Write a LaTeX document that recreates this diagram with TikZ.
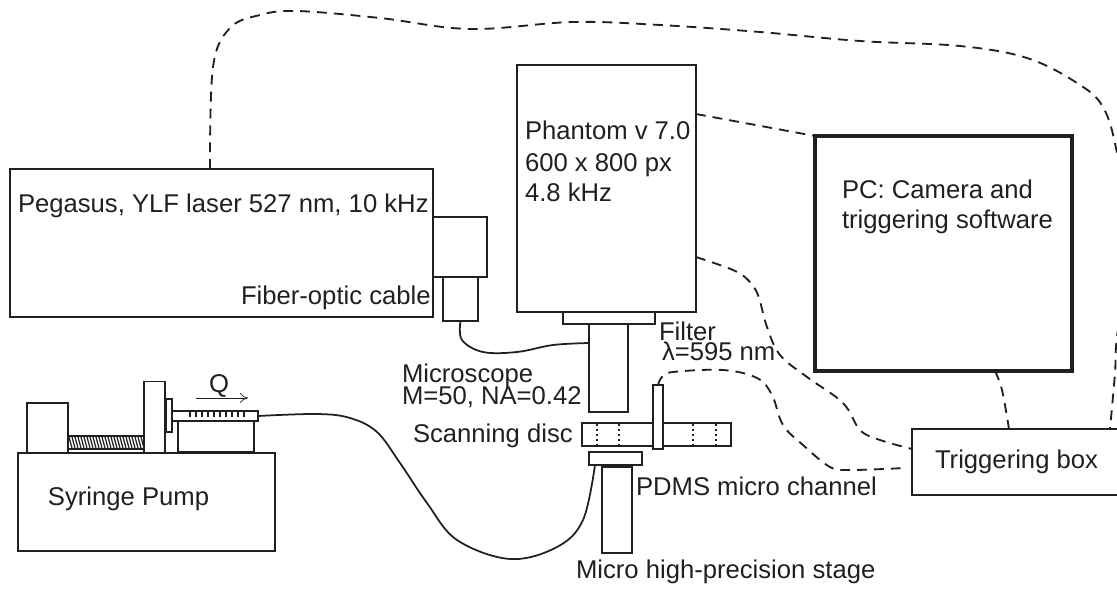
\documentclass[tikz,border=0pt]{standalone}
\usepackage{fontspec}
\setmainfont{Liberation Sans}
\usetikzlibrary{positioning,arrows.meta,calc}
\definecolor{inkGrey}{RGB}{35,31,32}

\begin{document}
\begin{tikzpicture}[x=0.02cm,y=-0.02cm,
  unitbox/.style={draw=inkGrey, line width=1.1pt, fill=white, inner sep=0pt, outer sep=0pt},
  pcbox/.style={draw=inkGrey, line width=2.2pt, fill=white, inner sep=0pt, outer sep=0pt},
  lbl/.style={anchor=base west, inner sep=0pt, outer sep=0pt, text=inkGrey,
              font=\fontsize{14.6}{17}\selectfont},
  tubing/.style={draw=inkGrey, line width=1pt},
  signal/.style={draw=inkGrey, line width=1.05pt, dash pattern=on 5.6pt off 4pt},
  slot/.style={draw=inkGrey, line width=1.3pt, dash pattern=on 1.4pt off 1.4pt},
  flowarr/.style={-{To[length=1.6mm,width=2mm]}, draw=inkGrey, line width=0.4pt}
]
\useasboundingbox (0,0) rectangle (1117,589);
\clip (0,0) rectangle (1117,589);
%% Laser and fibre coupler
\node[unitbox, minimum width=8.46cm, minimum height=2.96cm] (LAS) at (221.5,243) {};
\node[unitbox, minimum width=1.08cm, minimum height=1.2cm]  (COUP) at (460,247) {};
\node[unitbox, minimum width=0.7cm,  minimum height=0.88cm] (FIB) at (460.5,299) {};
\node[lbl] (LASt) at (18,212) {Pegasus, YLF laser 527 nm, 10 kHz};
\node[lbl] (FIBt) at (241,304) {Fiber-optic cable};
%% Camera and microscope column
\node[unitbox, minimum width=3.58cm, minimum height=4.94cm] (CAM) at (606.5,188.5) {};
\node[unitbox, minimum width=1.84cm, minimum height=0.24cm] (FILT) at (609,318) {};
\node[unitbox, minimum width=0.78cm, minimum height=1.76cm] (MIC) at (608.5,368) {};
\node[unitbox, minimum width=2.98cm, minimum height=0.46cm] (DISC) at (656.5,434.5) {};
\node[unitbox, minimum width=0.2cm,  minimum height=1.28cm] (SENS) at (658,417) {};
\node[unitbox, minimum width=1.06cm, minimum height=0.26cm] (CHAN) at (615.5,458.5) {};
\node[unitbox, minimum width=0.6cm,  minimum height=1.72cm] (STAGE) at (617,510) {};
\foreach \x in {597,619,693,716}
  \draw[slot] (\x,424) -- (\x,445);
\node[lbl] (CAMa) at (525,139) {Phantom v 7.0};
\node[lbl] (CAMb) at (525,171) {600 x 800 px};
\node[lbl] (CAMc) at (525,201) {4.8 kHz};
\node[lbl] (MICa) at (402,382) {Microscope};
\node[lbl] (MICb) at (402,404) {M=50, NA=0.42};
\node[lbl] (DISCt) at (413,442) {Scanning disc};
\node[lbl] (FILa) at (659,340) {Filter};
\node[lbl] (FILb) at (662,360) {λ=595 nm};
\node[lbl] (CHANt) at (636,495) {PDMS micro channel};
\node[lbl] (STAGEt) at (576,578) {Micro high-precision stage};
%% PC and trigger
\node[pcbox, minimum width=5.14cm, minimum height=4.7cm] (PC) at (943.5,253.5) {};
\node[unitbox, minimum width=4.3cm, minimum height=1.32cm] (TRIG) at (1019.5,462) {};
\node[lbl] (PCa) at (842,198) {PC: Camera and};
\node[lbl] (PCb) at (842,228) {triggering software};
\node[lbl] (TRIGt) at (935,468) {Triggering box};
%% Syringe pump
\node[unitbox, minimum width=5.14cm, minimum height=1.96cm] (PUMP) at (146.5,502) {};
\node[unitbox, minimum width=0.82cm, minimum height=1cm]    (MOTOR) at (47.5,428) {};
\node[unitbox, minimum width=1.52cm, minimum height=0.26cm] (SCREW) at (106,442.5) {};
\foreach \x in {69,72,...,141}
  \draw[inkGrey, line width=0.7pt] (\x,437) -- (\x+3,448);
\node[unitbox, minimum width=0.42cm, minimum height=1.42cm] (CARR) at (154.5,417) {};
\node[unitbox, minimum width=0.12cm, minimum height=0.66cm] (PLUNG) at (169,415.5) {};
\node[unitbox, minimum width=1.52cm, minimum height=0.62cm] (SUPP) at (216,436.5) {};
\node[unitbox, minimum width=1.72cm, minimum height=0.2cm]  (SYR) at (215,416) {};
\foreach \x in {190,196,...,247}
  \draw[inkGrey, line width=0.7pt] (\x,411) -- (\x,417);
\node[lbl] (PUMPt) at (48,505) {Syringe Pump};
\node[lbl] (Qt) at (209,392) {Q};
\coordinate (Qa) at (196,398);
\coordinate (Qb) at (248,398);
\draw[flowarr] (Qa) -- (Qb);
%% Tubing
\coordinate (CHANin) at (595,465);
\coordinate (MICin) at (589,343);
\draw[tubing] plot[smooth,tension=0.6] coordinates {(SYR.east) (317,414) (350,418) (377,432) (400,463) (427,503) (457,540) (510,559) (557,547) (583,520) (CHANin)};
\draw[tubing] plot[smooth,tension=0.6] coordinates {(FIB.south) (462,340) (483,352) (517,352) (553,345) (MICin)};
%% Signal cables
\coordinate (LASout) at (210,169);
\coordinate (TRIGtop) at (1110,429);
\coordinate (CAMa1) at (696,114);
\coordinate (CAMa2) at (696,257);
\coordinate (PCin) at (815,136);
\coordinate (PCout) at (995,371);
\coordinate (TRIGp) at (1009,429);
\coordinate (TRIGa) at (912,449);
\coordinate (TRIGb) at (905,468);
\draw[signal] plot[smooth,tension=0.6] coordinates {(LASout) (213,67) (230,28) (260,15) (297,11) (380,18) (470,29) (573,22) (660,25) (760,32) (860,41) (960,46) (1027,58) (1077,83) (1103,107) (1117,153) (1130,240) (1117,337) (1115,373) (TRIGtop)};
\draw[signal] (CAMa1) -- (PCin);
\draw[signal] plot[smooth,tension=0.6] coordinates {(PCout) (1002,390) (TRIGp)};
\draw[signal] plot[smooth,tension=0.6] coordinates {(CAMa2) (733,270) (748,280) (758,295) (767,327) (780,355) (807,377) (843,403) (860,430) (880,440) (TRIGa)};
\draw[signal] plot[smooth,tension=0.6] coordinates {(SENS.north) (662,377) (673,372) (723,370) (757,378) (772,395) (783,425) (803,445) (830,467) (850,470) (TRIGb)};
\end{tikzpicture}
\end{document}
